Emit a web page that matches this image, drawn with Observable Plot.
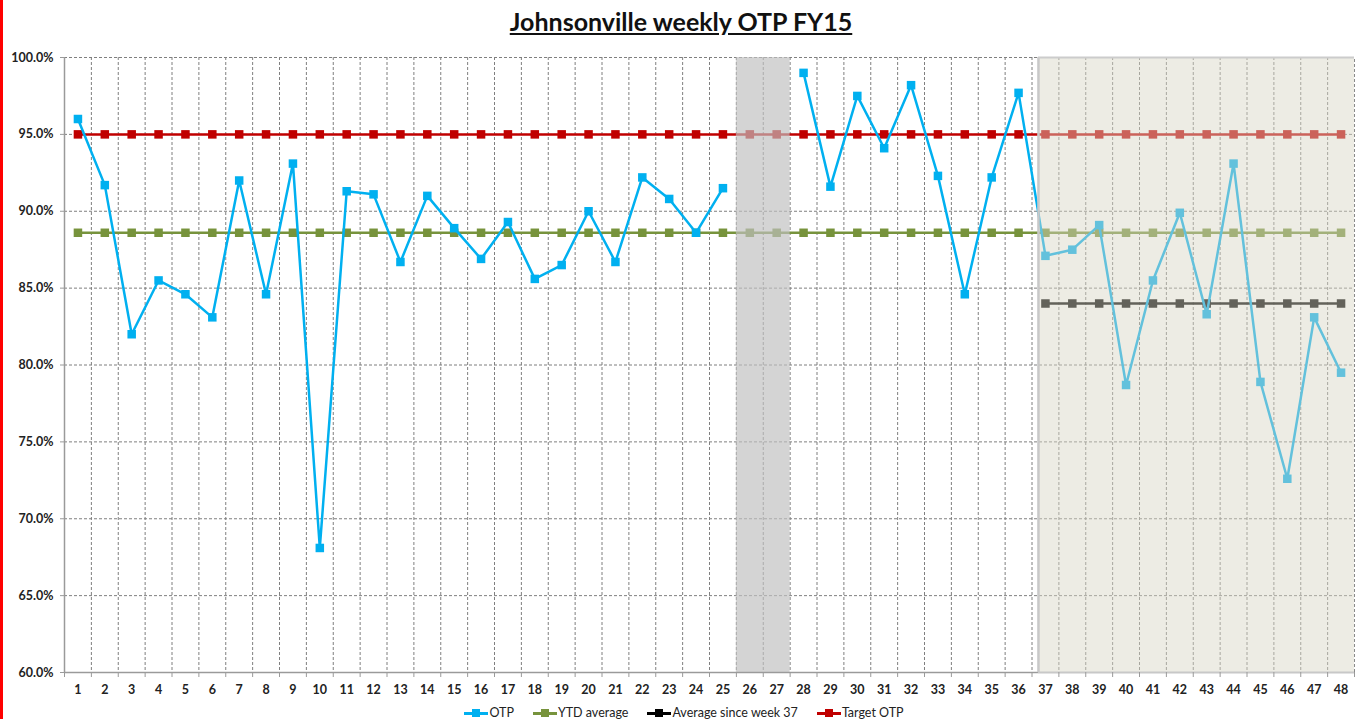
<!DOCTYPE html>
<html>
<head>
<meta charset="utf-8">
<script src="https://cdn.jsdelivr.net/npm/d3@7"></script>
<script src="https://cdn.jsdelivr.net/npm/@observablehq/plot@0.6"></script>
<style>
  html, body { margin: 0; padding: 0; background: #fff; }
  body { width: 1362px; height: 719px; overflow: hidden; position: relative; font-family: Lato, "Open Sans", sans-serif; }
  #redbar { position: absolute; left: 0; top: 0; width: 3px; height: 719px; background: #ff0000; }
  #title { position: absolute; left: 0; width: 1362px; top: 6px; text-align: center; font-size: 25px; font-weight: bold; text-decoration: underline; text-underline-offset: 2px; color: #111; }
  #chart { position: absolute; left: 0; top: 45px; }
  #legend { position: absolute; left: 0; width: 1362px; top: 705px; display: flex; justify-content: center; gap: 19px; font-size: 12.5px; color: #222; padding-left: 6px; box-sizing: border-box; }
  .item { display: flex; align-items: center; gap: 1px; }
  .sw { position: relative; width: 24px; height: 10px; }
  .sw .ln { position: absolute; left: 0; right: 0; top: 4px; height: 3px; }
  .sw .mk { position: absolute; left: 8px; top: 1px; width: 8px; height: 8px; }
</style>
</head>
<body>
<div id="redbar"></div>
<div id="title">Johnsonville weekly OTP FY15</div>
<div id="chart"></div>
<div id="legend"></div>
<script>
// ---- data ----
const weeks = [1,2,3,4,5,6,7,8,9,10,11,12,13,14,15,16,17,18,19,20,21,22,23,24,25,26,27,28,29,30,31,32,33,34,35,36,37,38,39,40,41,42,43,44,45,46,47,48];
const otp = [96.0, 91.7, 82.0, 85.5, 84.6, 83.1, 92.0, 84.6, 93.1, 68.1,
             91.3, 91.1, 86.7, 91.0, 88.9, 86.9, 89.3, 85.6, 86.5, 90.0,
             86.7, 92.2, 90.8, 88.6, 91.5, null, null, 99.0, 91.6, 97.5,
             94.1, 98.2, 92.3, 84.6, 92.2, 97.7, 87.1, 87.5, 89.1, 78.7,
             85.5, 89.9, 83.3, 93.1, 78.9, 72.6, 83.1, 79.5];
const ytdAverage = [88.6,88.6,88.6,88.6,88.6,88.6,88.6,88.6,88.6,88.6,88.6,88.6,88.6,88.6,88.6,88.6,
                    88.6,88.6,88.6,88.6,88.6,88.6,88.6,88.6,88.6,88.6,88.6,88.6,88.6,88.6,88.6,88.6,
                    88.6,88.6,88.6,88.6,88.6,88.6,88.6,88.6,88.6,88.6,88.6,88.6,88.6,88.6,88.6,88.6];
const targetOtp = [95,95,95,95,95,95,95,95,95,95,95,95,95,95,95,95,95,95,95,95,95,95,95,95,
                   95,95,95,95,95,95,95,95,95,95,95,95,95,95,95,95,95,95,95,95,95,95,95,95];
const avgWeeks = [37,38,39,40,41,42,43,44,45,46,47,48];
const avgSince37 = [84.0,84.0,84.0,84.0,84.0,84.0,84.0,84.0,84.0,84.0,84.0,84.0];
const closedWeeks = [26, 27];
const forecastFromWeek = 37;
const yTicks = [60, 65, 70, 75, 80, 85, 90, 95, 100];
const seriesNames = ["OTP", "YTD average", "Average since week 37", "Target OTP"];
const seriesColors = ["#00B0F0", "#77933C", "#000000", "#C00000"];

// ---- tables ----
const otpData = weeks.map((w, i) => ({week: w, value: otp[i]}));
const ytdData = weeks.map((w, i) => ({week: w, value: ytdAverage[i]}));
const tgtData = weeks.map((w, i) => ({week: w, value: targetOtp[i]}));
const avgData = avgWeeks.map((w, i) => ({week: w, value: avgSince37[i]}));
const boundaries = weeks.map(w => w + 0.5);
const inner = boundaries.slice(0, -1);
const xMin = weeks[0] - 0.5, xMax = weeks[weeks.length - 1] + 0.5;
const yMin = yTicks[0], yMax = yTicks[yTicks.length - 1];

const band = {x1: d3.min(closedWeeks) - 0.5, x2: d3.max(closedWeeks) + 0.5};
const beige = {x1: forecastFromWeek - 0.26, x2: xMax};

const series = (data, color) => [
  Plot.line(data, {x: "week", y: "value", stroke: color, strokeWidth: 2.5}),
  Plot.dot(data, {x: "week", y: "value", symbol: "square", r: 4.8, fill: color, stroke: null})
];

const chart = Plot.plot({
  width: 1362,
  height: 657,
  marginLeft: 64,
  marginRight: 8,
  marginTop: 12,
  marginBottom: 30,
  style: {fontFamily: "Lato, 'Open Sans', sans-serif", fontSize: "12.5px", fontWeight: "bold", color: "#222", background: "transparent", overflow: "visible"},
  x: {domain: [xMin, xMax], axis: null},
  y: {domain: [yMin, yMax], axis: null},
  marks: [
    // grid
    Plot.ruleY(yTicks.slice(1), {stroke: "#7f7f7f", strokeWidth: 1, strokeDasharray: "3,2"}),
    Plot.ruleX(inner, {stroke: "#7f7f7f", strokeWidth: 1, strokeDasharray: "3,2"}),
    // series
    ...series(ytdData, seriesColors[1]),
    ...series(tgtData, seriesColors[3]),
    ...series(avgData, seriesColors[2]),
    ...series(otpData, seriesColors[0]),
    // overlays
    Plot.rect([band], {x1: "x1", x2: "x2", y1: yMin, y2: yMax, fill: "rgb(191,191,191)", fillOpacity: 0.68}),
    Plot.rect([beige], {x1: "x1", x2: "x2", y1: yMin, y2: yMax, fill: "rgb(216,213,196)", fillOpacity: 0.46}),
    // axes lines
    Plot.ruleX([xMin], {y1: yMin, y2: yMax, stroke: "#9a9a9a", strokeWidth: 1.5}),
    Plot.ruleY([yMin], {x1: xMin, x2: beige.x1, stroke: "#9a9a9a", strokeWidth: 1.5}),
    Plot.ruleX([xMax], {y1: yMin, y2: yMax, stroke: "#8a8a8a", strokeWidth: 1, strokeDasharray: "3,2"}),
    Plot.ruleX([beige.x1], {y1: yMin, y2: yMax, stroke: "#c8c8c8", strokeWidth: 2.5}),
    Plot.ruleY([yMax], {x1: beige.x1, x2: xMax, stroke: "#cccccc", strokeWidth: 2}),
    Plot.ruleY([yMin], {x1: beige.x1, x2: xMax, stroke: "#c8c8c8", strokeWidth: 2}),
    // y axis
    Plot.axisY({ticks: yTicks, label: null, tickSize: 4, tickPadding: 7, tickFormat: d => d.toFixed(1) + "%", stroke: "#9a9a9a", fill: "#222"}),
    // x tick marks at boundaries
    Plot.axisX({ticks: [xMin, ...boundaries], label: null, tickSize: 5, tickFormat: () => "", stroke: "#9a9a9a"}),
    // x labels
    Plot.axisX({ticks: weeks, label: null, tickSize: 0, tickPadding: 13, tickFormat: d => String(d), fill: "#222"})
  ]
});
document.getElementById("chart").appendChild(chart);

// legend
const legend = document.getElementById("legend");
seriesNames.forEach((name, i) => {
  const item = document.createElement("div");
  item.className = "item";
  item.innerHTML = `<span class="sw"><span class="ln" style="background:${seriesColors[i]}"></span><span class="mk" style="background:${seriesColors[i]}"></span></span><span>${name}</span>`;
  legend.appendChild(item);
});
</script>
</body>
</html>
